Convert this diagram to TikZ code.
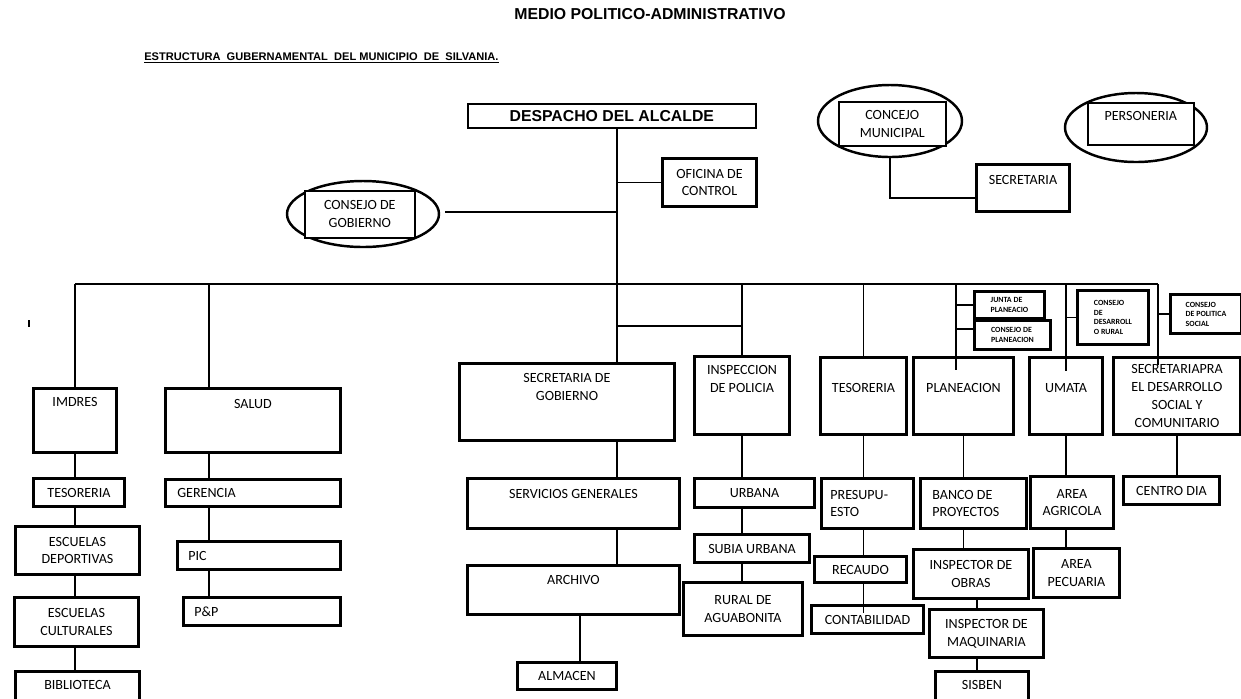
\documentclass[tikz,border=0pt]{standalone}
\usepackage{fontspec}
\setmainfont{Carlito}
\newfontfamily\arialfont{Liberation Sans}
\usetikzlibrary{shapes.geometric,calc}

\begin{document}
\begin{tikzpicture}[x=0.02cm, y=-0.02cm,
     wh/.style 2 args = {minimum width=#1*0.02cm, minimum height=#2*0.02cm},
     bx/.style = {draw, line width=1.7pt, inner sep=1pt, align=center,
     anchor=north west, font=\fontsize{8}{10.2}\selectfont},
     thinbx/.style = {bx, line width=0.9pt, fill=white},
     smallbx/.style = {bx, align=left, font=\bfseries\fontsize{4.5}{5.4}\selectfont},
     ell/.style = {draw, ellipse, line width=1.4pt},
     tl/.style = {anchor=north, inner sep=0pt, align=center,
     font=\fontsize{8}{10.2}\selectfont},
     ll/.style = {anchor=west, inner sep=0pt, align=left,
     font=\fontsize{8}{10.2}\selectfont},
     con/.style = {line width=0.9pt}]
    \useasboundingbox (0,0) rectangle (1241,698);

    % titulos
    \node [font=\arialfont\bfseries\fontsize{9}{11}\selectfont, inner sep=0pt]
        at (650,14) (titulo) {MEDIO POLITICO-ADMINISTRATIVO};
    \node [font=\arialfont\bfseries\fontsize{6.3}{7}\selectfont, inner sep=0pt, anchor=west]
        at (144,58) (subtitulo)
        {\underline{ESTRUCTURA\ \ GUBERNAMENTAL\ \ DEL MUNICIPIO\ \ DE\ \ SILVANIA.}};
    \draw [line width=1.6pt] (29,320) -- (29,327);

    % parte alta
    \node [thinbx, wh={288}{24}, fill=none, font=\arialfont\bfseries\fontsize{9}{11}\selectfont]
        at (467,103) (despacho) {DESPACHO DEL ALCALDE};
    \node [bx, wh={94}{48}]
        at (661,157) (oficina) {OFICINA DE\\CONTROL};
    \node [ell, wh={152}{66}]
        at (363,214) (cgobe) {};
    \node [thinbx, wh={110}{47}]
        at (304,190) (cgob) {CONSEJO DE\\GOBIERNO};
    \node [ell, wh={144}{72}]
        at (890,121) (concejoe) {};
    \node [thinbx, wh={107}{44}]
        at (838,101) (concejo) {CONCEJO\\MUNICIPAL};
    \node [bx, wh={93}{47}, label={[tl, yshift=-0.25cm]north:SECRETARIA}]
        at (975,163) (secr) {};
    \node [ell, wh={142}{69}]
        at (1136,127.5) (persone) {};
    \node [thinbx, wh={106}{42}, label={[tl, yshift=-0.19cm]north:PERSONERIA}]
        at (1087,102) (person) {};

    % consejos pequenos
    \node [smallbx, wh={70}{27}]
        at (973,290) (junta) {JUNTA DE\\PLANEACIO};
    \node [smallbx, wh={76}{29}]
        at (973,319) (cplan) {CONSEJO DE\\PLANEACION};
    \node [smallbx, wh={71}{54}]
        at (1076,289) (drural) {CONSEJO\\DE\\DESARROLL\\O RURAL};
    \node [smallbx, wh={71}{39}]
        at (1169,293) (pol) {CONSEJO\\DE POLITICA\\SOCIAL};

    % dependencias
    \node [bx, wh={83}{64}, label={[tl, yshift=-0.21cm]north:IMDRES}]
        at (32,387) (imdres) {};
    \node [bx, wh={175}{64}, label={[tl, yshift=-0.25cm]north:SALUD}]
        at (164,387) (salud) {};
    \node [bx, wh={215}{77}, label={[tl, yshift=-0.23cm]north:{SECRETARIA DE\\GOBIERNO}}]
        at (458,362) (secgob) {};
    \node [bx, wh={95}{78}, label={[tl, yshift=-0.21cm]north:{INSPECCION\\DE POLICIA}}]
        at (693,355) (insp) {};
    \node [bx, wh={86}{77}, label={[tl, yshift=-0.55cm]north:TESORERIA}]
        at (819,356) (tesor) {};
    \node [bx, wh={100}{77}, label={[tl, yshift=-0.55cm]north:PLANEACION}]
        at (912,356) (plan) {};
    \node [bx, wh={73}{77}, label={[tl, yshift=-0.55cm]north:UMATA}]
        at (1028,356) (umata) {};
    \node [bx, wh={127}{77}]
        at (1112,356) (secdes) {SECRETARIAPRA\\EL DESARROLLO\\SOCIAL Y\\COMUNITARIO};

    % imdres
    \node [bx, wh={91}{28}]
        at (32,477) (tesimd) {TESORERIA};
    \node [bx, wh={124}{48}]
        at (14,525) (escdep) {ESCUELAS\\DEPORTIVAS};
    \node [bx, wh={124}{49}]
        at (13,596) (esccul) {ESCUELAS\\CULTURALES};
    \node [bx, wh={124}{34}, label={[tl, yshift=-0.21cm]north:BIBLIOTECA}]
        at (14,670) (biblio) {};

    % salud
    \node [bx, wh={175}{27}, label={[ll, xshift=0.26cm]west:GERENCIA}]
        at (164,478) (gerencia) {};
    \node [bx, wh={163}{28}, label={[ll, xshift=0.24cm]west:PIC}]
        at (176,540) (pic) {};
    \node [bx, wh={157}{28}, label={[ll, xshift=0.24cm]west:P\&P}]
        at (182,596) (pyp) {};

    % gobierno
    \node [bx, wh={212}{50}, label={[tl, yshift=-0.25cm]north:SERVICIOS GENERALES}]
        at (466,477) (servgen) {};
    \node [bx, wh={212}{49}, label={[tl, yshift=-0.23cm]north:ARCHIVO}]
        at (466,564) (archivo) {};
    \node [bx, wh={99}{27}]
        at (516,661) (almacen) {ALMACEN};

    % policia
    \node [bx, wh={120}{29}]
        at (693,477) (urbana) {URBANA};
    \node [bx, wh={115}{28}]
        at (693,533) (subia) {SUBIA URBANA};
    \node [bx, wh={119}{53}]
        at (682,581) (rural) {RURAL DE\\AGUABONITA};

    % tesoreria
    \node [bx, wh={92}{50}, label={[ll, xshift=0.2cm]west:{PRESUPU-\\ESTO}}]
        at (820,477) (presup) {};
    \node [bx, wh={92}{26}]
        at (813,555) (recaudo) {RECAUDO};
    \node [bx, wh={112}{28}]
        at (810,604) (contab) {CONTABILIDAD};

    % planeacion
    \node [bx, wh={106}{50}, label={[ll, xshift=0.26cm]west:{BANCO DE\\PROYECTOS}}]
        at (919,477) (banco) {};
    \node [bx, wh={115}{49}]
        at (912,548) (obras) {INSPECTOR DE\\OBRAS};
    \node [bx, wh={114}{48}]
        at (928,608) (maquin) {INSPECTOR DE\\MAQUINARIA};
    \node [bx, wh={93}{34}, label={[tl, yshift=-0.21cm]north:SISBEN}]
        at (934,670) (sisben) {};

    % umata y desarrollo social
    \node [bx, wh={83}{52}]
        at (1029,475) (agric) {AREA\\AGRICOLA};
    \node [bx, wh={86}{49}]
        at (1032,547) (pecu) {AREA\\PECUARIA};
    \node [bx, wh={96}{28}]
        at (1122,475) (centro) {CENTRO DIA};

    % lineas
    \coordinate (bus) at (0,284);
    \coordinate (tap) at (0,326);
    \coordinate (trunk) at (617,0);
    \coordinate (saludx) at (209,0);
    \coordinate (archx) at (580,0);
    \coordinate (planx) at (956,0);
    \coordinate (obrax) at (977,0);
    \coordinate (secdx) at (1158,0);

    \draw [con] (despacho.south -| trunk) -- (trunk |- secgob.north);
    \draw [con] (trunk |- oficina.west) -- (oficina.west);
    \draw [con] ($(cgobe.east)+(5,-2)$) -- (trunk |- {$(cgobe.east)+(5,-2)$});
    \draw [con] (concejoe.south) |- ($(secr.west)+(0,10)$);
    \draw [con] (imdres.north |- bus) -- (secdx |- bus);
    \draw [con] (imdres.north |- bus) -- (imdres.north);
    \draw [con] (saludx |- bus) -- (saludx |- salud.north);
    \draw [con] (trunk |- tap) -- (insp.north |- tap);
    \draw [con] (insp.north |- bus) -- (insp.north);
    \draw [con] (tesor.north |- bus) -- (tesor.north);
    \draw [con] (planx |- bus) -- ($(planx |- plan.north)+(0,14)$);
    \draw [con] (umata.north |- bus) -- ($(umata.north)+(0,15)$);
    \draw [con] (secdx |- bus) -- ($(secdx |- secdes.north)+(0,9)$);
    \draw [con] (planx |- junta.west) -- (junta.west);
    \draw [con] ($(planx |- cplan.west)+(0,-6)$) -- ($(cplan.west)+(0,-6)$);
    \draw [con] (umata.north |- drural.west) -- (drural.west);
    \draw [con] (secdx |- pol.west) -- (pol.west);

    \draw [con] (imdres.south) -- (imdres.south |- tesimd.north);
    \draw [con] (imdres.south |- tesimd.south) -- (imdres.south |- escdep.north);
    \draw [con] (imdres.south |- escdep.south) -- (imdres.south |- esccul.north);
    \draw [con] (imdres.south |- esccul.south) -- (imdres.south |- biblio.north);

    \draw [con] (saludx |- salud.south) -- (saludx |- gerencia.north);
    \draw [con] (saludx |- gerencia.south) -- (saludx |- pic.north);
    \draw [con] (saludx |- pic.south) -- (saludx |- pyp.north);

    \draw [con] (trunk |- secgob.south) -- (trunk |- servgen.north);
    \draw [con] (trunk |- servgen.south) -- (trunk |- archivo.north);
    \draw [con] (archx |- archivo.south) -- (archx |- almacen.north);

    \draw [con] (insp.south) -- (insp.south |- urbana.north);
    \draw [con] (insp.south |- urbana.south) -- (insp.south |- subia.north);
    \draw [con] (insp.south |- subia.south) -- (insp.south |- rural.north);

    \draw [con] (tesor.south) -- (tesor.south |- presup.north);
    \draw [con] (tesor.south |- presup.south) -- (tesor.south |- recaudo.north);
    \draw [con] (tesor.south |- recaudo.south) -- ($(tesor.south |- contab.north)+(0,9)$);

    \draw [con] (plan.south) -- (plan.south |- banco.north);
    \draw [con] (plan.south |- banco.south) -- (plan.south |- obras.north);
    \draw [con] (obrax |- obras.south) -- (obrax |- maquin.north);
    \draw [con] (obrax |- maquin.south) -- (obrax |- sisben.north);

    \draw [con] (umata.south) -- (umata.south |- agric.north);
    \draw [con] (umata.south |- agric.south) -- (umata.south |- pecu.north);
    \draw [con] (secdes.south) -- (secdes.south |- centro.north);
\end{tikzpicture}
\end{document}
